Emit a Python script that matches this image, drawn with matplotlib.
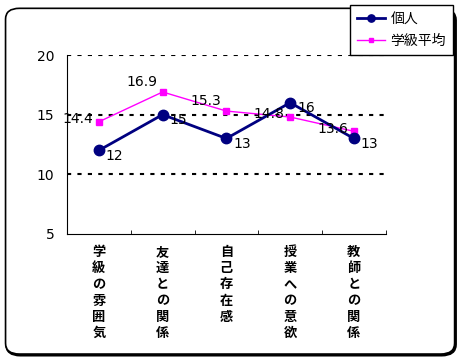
import numpy as np
import matplotlib.pyplot as plt
from matplotlib.patches import FancyBboxPatch

plt.rcParams['font.family'] = ['Noto Sans CJK JP', 'DejaVu Sans']

categories = ['学級の雰囲気', '友達との関係', '自己存在感', '授業への意欲', '教師との関係']
kojin = [12, 15, 13, 16, 13]
gakkyu = [14.4, 16.9, 15.3, 14.8, 13.6]
kojin_labels = ['12', '15', '13', '16', '13']
gakkyu_labels = ['14.4', '16.9', '15.3', '14.8', '13.6']
yticks = [5, 10, 15, 20]

fig = plt.figure(figsize=(4.62, 3.62), dpi=100)

# cadre arrondi autour du graphique (ombre en bas a droite)
ombre = FancyBboxPatch((0.014, 0.019), 0.972, 0.955, boxstyle="round,pad=0,rounding_size=0.03",
                       transform=fig.transFigure, fill=False, edgecolor='black', linewidth=2, zorder=-2)
cadre = FancyBboxPatch((0.012, 0.022), 0.972, 0.955, boxstyle="round,pad=0,rounding_size=0.03",
                       transform=fig.transFigure, facecolor='white', edgecolor='black', linewidth=1.2, zorder=-1)
fig.patches.append(ombre)
fig.patches.append(cadre)

ax = fig.add_axes([0.145, 0.354, 0.690, 0.494])
ax.patch.set_alpha(0)
x = np.arange(len(categories))

for v in [10, 15, 20]:
    ax.axhline(v, color='black', linestyle=(0, (2, 3)), linewidth=1.5, zorder=1)

ax.plot(x, gakkyu, color='#ff00ff', linewidth=1, marker='s', markersize=5, label='学級平均', zorder=2)
ax.plot(x, kojin, color='#000080', linewidth=2, marker='o', markersize=7.5, label='個人', zorder=3)

for i in range(len(x)):
    ax.annotate(kojin_labels[i], (x[i], kojin[i]), xytext=(5, -4), textcoords='offset points',
                fontsize=10, va='center', ha='left', family='DejaVu Sans')
    ax.annotate(gakkyu_labels[i], (x[i], gakkyu[i]), xytext=(-4, 2), textcoords='offset points',
                fontsize=10, va='bottom' if i in (1, 2) else 'center', ha='right', family='DejaVu Sans')

ax.set_xlim(-0.5, len(categories) - 0.5)
ax.set_ylim(5, 20)
ax.set_yticks(yticks)
ax.set_yticklabels([str(t) for t in yticks], family='DejaVu Sans', fontsize=10)
ax.tick_params(axis='y', length=0, pad=9)
ax.set_xticks(np.arange(len(categories) + 1) - 0.5, minor=True)
ax.set_xticks(x)
ax.set_xticklabels(['\n'.join(c) for c in categories], fontsize=9.5, fontweight='bold',
                   va='top', linespacing=1.2)
ax.tick_params(axis='x', which='major', length=0, pad=8)
ax.tick_params(axis='x', which='minor', length=3, direction='in')
ax.spines['top'].set_visible(False)
ax.spines['right'].set_visible(False)

handles, labels = ax.get_legend_handles_labels()
leg = fig.legend(handles[::-1], labels[::-1], loc='upper right', bbox_to_anchor=(0.980, 0.986),
                 borderaxespad=0, fancybox=False, edgecolor='black', framealpha=1, fontsize=10,
                 handlelength=2.0, borderpad=0.5, labelspacing=0.6, handletextpad=0.4, markerscale=0.7)
leg.get_frame().set_linewidth(1)

fig.savefig('out.png', dpi=100)
